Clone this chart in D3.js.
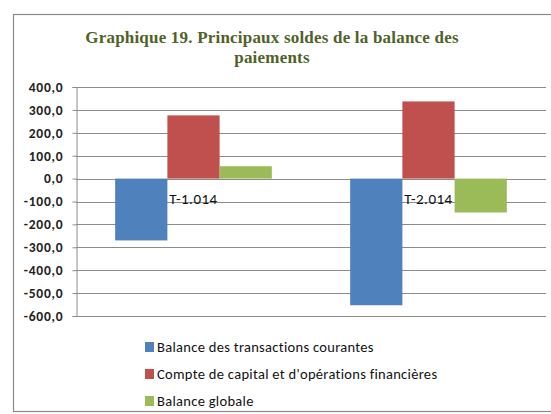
<!DOCTYPE html>
<html>
<head>
<meta charset="utf-8">
<script src="https://cdn.jsdelivr.net/npm/d3@7"></script>
<style>
  body { margin: 0; background: #fff; }
  svg { display: block; }
</style>
</head>
<body>
<svg id="chart" width="551" height="414"></svg>
<script>
// ── Data ──
const categories = ['T-1.014', 'T-2.014'];
const seriesNames = [
  'Balance des transactions courantes',
  "Compte de capital et d'opérations financières",
  'Balance globale',
];
const courantes = [-270, -553];
const capital = [276, 337];
const globale = [54, -148];
const yTicks = [400, 300, 200, 100, 0, -100, -200, -300, -400, -500, -600];

const COLORS = ['#4F81BD', '#C0504D', '#9BBB59'];
const TITLE_COLOR = '#4F6228';
const GRID = '#8c8c8c';
const FONT = 'Carlito, Calibri, "Liberation Sans", sans-serif';

const W = 551, H = 414;
const M = { left: 76, right: 546, top: 87, bottom: 316 };

const svg = d3.select('#chart');

// chart frame
svg.append('rect')
  .attr('x', 13.5).attr('y', 14.5)
  .attr('width', W + 10).attr('height', H - 17)
  .attr('fill', 'none').attr('stroke', '#8a8a8a').attr('stroke-width', 1.2);

// title
svg.append('text')
  .attr('x', 272).attr('y', 43)
  .attr('text-anchor', 'middle')
  .attr('font-family', '"Liberation Serif", "Times New Roman", serif')
  .attr('font-weight', 'bold').attr('font-size', 17)
  .attr('letter-spacing', 0.2)
  .attr('fill', TITLE_COLOR)
  .selectAll('tspan')
  .data(['Graphique 19. Principaux soldes de la balance des', 'paiements'])
  .join('tspan')
  .attr('x', 272).attr('dy', (d, i) => (i === 0 ? 0 : 20))
  .text((d) => d);

const y = d3.scaleLinear().domain([-600, 400]).range([M.bottom, M.top]);
const x0 = d3.scaleBand().domain(categories).range([M.left, M.right]).paddingInner(0).paddingOuter(0);
// Excel gap width 150% → 3 bars + 1.5 bar widths per category
const barW = x0.bandwidth() / 4.5;

// gridlines
svg.append('g')
  .selectAll('line')
  .data(yTicks)
  .join('line')
  .attr('x1', M.left).attr('x2', M.right)
  .attr('y1', (d) => Math.round(y(d)) + 0.5).attr('y2', (d) => Math.round(y(d)) + 0.5)
  .attr('stroke', GRID).attr('stroke-width', 1);

// y axis
const yAxis = svg.append('g')
  .attr('transform', `translate(${M.left + 0.5},0)`)
  .call(d3.axisLeft(y).tickValues(yTicks).tickSize(4).tickPadding(9)
    .tickFormat((d) => d3.format('.1f')(d).replace('.', ',').replace('−', '-')));
yAxis.select('.domain').attr('stroke', GRID);
yAxis.selectAll('.tick line').attr('stroke', GRID);
yAxis.selectAll('.tick text')
  .attr('font-family', FONT)
  .attr('font-weight', 'bold').attr('font-size', 13.5)
  .attr('letter-spacing', 0.8).attr('fill', '#222');

// bars
const series = [courantes, capital, globale];
series.forEach((vals, s) => {
  svg.append('g')
    .selectAll('rect')
    .data(vals)
    .join('rect')
    .attr('x', (d, i) => x0(categories[i]) + barW * 0.75 + s * barW)
    .attr('width', barW)
    .attr('y', (d) => y(Math.max(0, d)))
    .attr('height', (d) => Math.abs(y(d) - y(0)))
    .attr('fill', COLORS[s]);
});

// category labels at the zero line
svg.append('g')
  .selectAll('text')
  .data(categories)
  .join('text')
  .attr('x', (d) => x0(d) + x0.bandwidth() / 2)
  .attr('y', y(0) + 25)
  .attr('text-anchor', 'middle')
  .attr('font-family', FONT)
  .attr('font-size', 15).attr('letter-spacing', 0.5).attr('fill', '#111')
  .text((d) => d);

// legend
const legend = svg.append('g')
  .selectAll('g')
  .data(seriesNames)
  .join('g')
  .attr('transform', (d, i) => `translate(145, ${342 + i * 27})`);
legend.append('rect').attr('width', 9).attr('height', 10).attr('fill', (d, i) => COLORS[i]);
legend.append('text')
  .attr('x', 12).attr('y', 10)
  .attr('font-family', FONT)
  .attr('font-size', 14.5).attr('letter-spacing', 0.3).attr('fill', '#111')
  .text((d) => d);
</script>
</body>
</html>
